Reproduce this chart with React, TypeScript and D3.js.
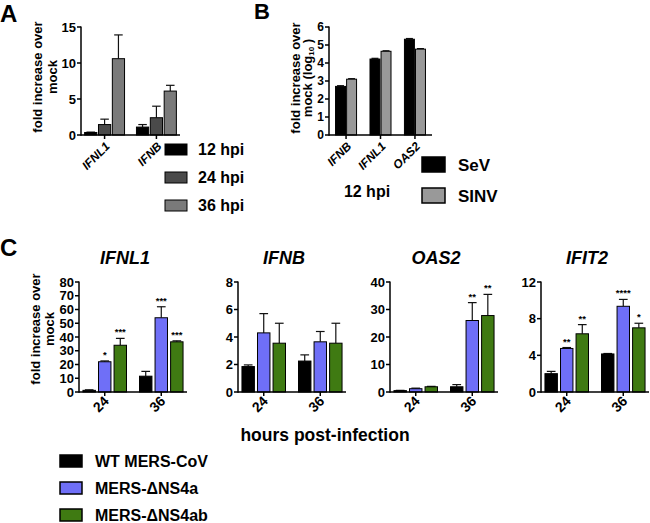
import React from "react";
import * as d3 from "d3";

// ---------- DATA ----------
const aGenes = ["IFNL1", "IFNB"];
const aSeries = ["12 hpi", "24 hpi", "36 hpi"];
const aMean = [
  [0.35, 1.1],
  [1.45, 2.4],
  [10.6, 6.1],
];
const aSd = [
  [0.05, 0.35],
  [0.75, 1.6],
  [3.3, 0.8],
];
const aTicks = [0, 5, 10, 15];

const bGenes = ["IFNB", "IFNL1", "OAS2"];
const bSeries = ["SeV", "SINV"];
const bMean = [
  [2.7, 4.22, 5.32],
  [3.1, 4.65, 4.77],
];
const bSd = [
  [0.04, 0.04, 0.04],
  [0.03, 0.03, 0.03],
];
const bTicks = [0, 1, 2, 3, 4, 5, 6];

const cTimes = ["24", "36"];
const cSeries = ["WT MERS-CoV", "MERS-\u0394NS4a", "MERS-\u0394NS4ab"];
const cGenes = ["IFNL1", "IFNB", "OAS2", "IFIT2"];
const cTicks = [
  [0, 10, 20, 30, 40, 50, 60, 70, 80],
  [0, 2, 4, 6, 8],
  [0, 10, 20, 30, 40],
  [0, 4, 8, 12],
];
// per gene: [series][time]
const cMean = [
  [[1.2, 11.5], [22, 54], [34, 36.5]],
  [[1.85, 2.25], [4.3, 3.65], [3.55, 3.55]],
  [[0.5, 1.9], [1.2, 26], [1.9, 27.8]],
  [[2.0, 4.15], [4.75, 9.35], [6.35, 7.0]],
];
const cSd = [
  [[0.4, 3.5], [0.6, 8], [5, 0.7]],
  [[0.12, 0.45], [1.4, 0.75], [1.45, 1.45]],
  [[0.1, 0.8], [0.2, 6.5], [0.15, 7.7]],
  [[0.25, 0.05], [0.1, 0.75], [1.0, 0.5]],
];
const cStars = [
  [["", ""], ["*", "***"], ["***", "***"]],
  [["", ""], ["", ""], ["", ""]],
  [["", ""], ["", "**"], ["", "**"]],
  [["", ""], ["**", "****"], ["**", "*"]],
];

// ---------- STYLE ----------
const FONT = "'Liberation Sans', Arial, Helvetica, sans-serif";
const aColors = ["#000000", "#4a4a4a", "#7a7a7a"];
const bColors = ["#000000", "#999999"];
const cColors = ["#000000", "#6f6ff7", "#3f7a12"];

type PanelProps = {
  x0: number;
  x1: number;
  yTop: number;
  yBot: number;
  ticks: number[];
  groups: string[];
  series: string[];
  mean: number[][]; // [series][group]
  sd: number[][];
  colors: string[];
  outerPad: number;
  innerPad: number;
  barPad: number;
  labelItalic: boolean;
  labelSize: number;
  labelDx: number;
  labelY: number;
  tickSize: number;
  stars?: string[][];
};

function Panel(p: PanelProps) {
  const max = p.ticks[p.ticks.length - 1];
  const y = d3.scaleLinear().domain([0, max]).range([p.yBot, p.yTop]);
  const xg = d3
    .scaleBand<string>()
    .domain(p.groups)
    .range([p.x0, p.x1])
    .paddingInner(p.innerPad)
    .paddingOuter(p.outerPad);
  const xs = d3
    .scaleBand<string>()
    .domain(p.series)
    .range([0, xg.bandwidth()])
    .paddingInner(p.barPad);
  const bw = xs.bandwidth();
  const cap = bw * 0.35;
  return (
    <g>
      {p.series.map((s, si) =>
        p.groups.map((g, gi) => {
          const v = p.mean[si][gi];
          const e = p.sd[si][gi];
          const bx = (xg(g) as number) + (xs(s) as number);
          const cx = bx + bw / 2;
          const star = p.stars ? p.stars[si][gi] : "";
          return (
            <g key={s + g}>
              <line x1={cx} x2={cx} y1={y(v)} y2={y(v + e)} stroke="#111" strokeWidth={1.2} />
              <line x1={cx - cap} x2={cx + cap} y1={y(v + e)} y2={y(v + e)} stroke="#111" strokeWidth={1.2} />
              <rect x={bx} y={y(v)} width={bw} height={p.yBot - y(v)} fill={p.colors[si]} stroke="#000" strokeWidth={1} />
              {star ? (
                <text x={cx} y={y(v + e) - 3} textAnchor="middle" fontSize={9.5} fontWeight="bold" fontFamily={FONT}>
                  {star}
                </text>
              ) : null}
            </g>
          );
        })
      )}
      <line x1={p.x0} x2={p.x0} y1={p.yTop - 0.5} y2={p.yBot + 0.75} stroke="#000" strokeWidth={1.5} />
      <line x1={p.x0} x2={p.x1} y1={p.yBot} y2={p.yBot} stroke="#000" strokeWidth={1.5} />
      {p.ticks.map((t) => (
        <g key={t}>
          <line x1={p.x0 - 4} x2={p.x0} y1={y(t)} y2={y(t)} stroke="#000" strokeWidth={1.5} />
          <text x={p.x0 - 5} y={y(t)} dy="0.36em" textAnchor="end" fontSize={p.tickSize} fontWeight="bold" fontFamily={FONT}>
            {t}
          </text>
        </g>
      ))}
      {p.groups.map((g) => {
        const cx = (xg(g) as number) + xg.bandwidth() / 2;
        return (
          <g key={g}>
            <line x1={cx} x2={cx} y1={p.yBot} y2={p.yBot + 4} stroke="#000" strokeWidth={1.5} />
            <text
              transform={`translate(${cx + p.labelDx},${p.labelY}) rotate(-45)`}
              textAnchor="end"
              fontSize={p.labelSize}
              fontWeight="bold"
              fontStyle={p.labelItalic ? "italic" : "normal"}
              fontFamily={FONT}
            >
              {g}
            </text>
          </g>
        );
      })}
    </g>
  );
}

function YLabel({ x1, x2, cy, line2 }: { x1: number; x2: number; cy: number; line2: React.ReactNode }) {
  return (
    <g fontSize={13} fontWeight="bold" fontFamily={FONT} textAnchor="middle">
      <text transform={`translate(${x1},${cy}) rotate(-90)`}>fold increase over</text>
      <text transform={`translate(${x2},${cy}) rotate(-90)`}>{line2}</text>
    </g>
  );
}

export default function App() {
  const cX0 = [79, 238, 390, 541];
  const cW = 108;
  return (
    <svg
      width={650}
      height={523}
      style={{ position: "absolute", left: 0, top: 0, background: "#fff" }}
      fontFamily={FONT}
    >
      <rect x={0} y={0} width={650} height={523} fill="#fff" />
      {/* Panel letters */}
      <text x={0} y={22} fontSize={24} fontWeight="bold">A</text>
      <text x={254} y={19} fontSize={22} fontWeight="bold">B</text>
      <text x={0} y={256} fontSize={24} fontWeight="bold">C</text>

      {/* Panel A */}
      <YLabel x1={42} x2={57} cy={77} line2="mock" />
      <Panel
        x0={81} x1={180} yTop={27} yBot={135} ticks={aTicks} tickSize={13}
        groups={aGenes} series={aSeries} mean={aMean} sd={aSd}
        colors={aColors} outerPad={0.07} innerPad={0.23} barPad={0.12}
        labelItalic={true} labelSize={12} labelDx={6} labelY={147}
      />
      {aSeries.map((s, i) => (
        <g key={s}>
          <rect x={165} y={144 + i * 28} width={22} height={11} fill={aColors[i]} stroke="#000" strokeWidth={1} />
          <text x={198} y={155 + i * 28} fontSize={16} fontWeight="bold">{s}</text>
        </g>
      ))}

      {/* Panel B */}
      <YLabel
        x1={300} x2={312} cy={78}
        line2={
          <>
            mock (log<tspan fontSize={8} dy={2}>10</tspan>
            <tspan dy={-2}> )</tspan>
          </>
        }
      />
      <Panel
        x0={329} x1={432} yTop={27} yBot={135} ticks={bTicks} tickSize={12}
        groups={bGenes} series={bSeries} mean={bMean} sd={bSd}
        colors={bColors} outerPad={0.19} innerPad={0.39} barPad={0.1}
        labelItalic={true} labelSize={12} labelDx={6} labelY={147}
      />
      <text x={367} y={197} fontSize={16} fontWeight="bold" textAnchor="middle">12 hpi</text>
      {bSeries.map((s, i) => (
        <g key={s}>
          <rect x={422} y={157 + i * 31} width={23} height={15} fill={bColors[i]} stroke="#000" strokeWidth={1.5} />
          <text x={458} y={171 + i * 31} fontSize={17} fontWeight="bold">{s}</text>
        </g>
      ))}

      {/* Panel C */}
      <YLabel x1={40} x2={54} cy={329} line2="mock" />
      {cGenes.map((g, gi) => (
        <g key={g}>
          <text x={cX0[gi] + 46} y={264} fontSize={18} fontWeight="bold" fontStyle="italic" textAnchor="middle">
            {g}
          </text>
          <Panel
            x0={cX0[gi]} x1={cX0[gi] + cW} yTop={282} yBot={392} ticks={cTicks[gi]} tickSize={13}
            groups={cTimes} series={cSeries} mean={cMean[gi]} sd={cSd[gi]}
            colors={cColors} outerPad={0.07} innerPad={0.23} barPad={0.2}
            labelItalic={false} labelSize={14} labelDx={5} labelY={402} stars={cStars[gi]}
          />
        </g>
      ))}
      <text x={325} y={441} fontSize={17.5} fontWeight="bold" textAnchor="middle">hours post-infection</text>
      {cSeries.map((s, i) => (
        <g key={s}>
          <rect x={60} y={455 + i * 27} width={22} height={12} fill={cColors[i]} stroke="#000" strokeWidth={1.5} />
          <text x={95} y={467 + i * 27} fontSize={16} fontWeight="bold">{s}</text>
        </g>
      ))}
    </svg>
  );
}
